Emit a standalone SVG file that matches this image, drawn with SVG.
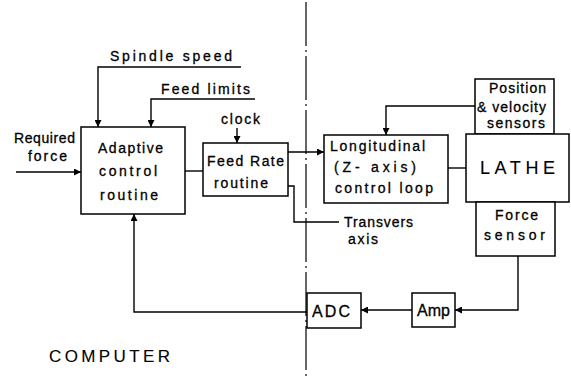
<svg xmlns="http://www.w3.org/2000/svg" width="571" height="379" viewBox="0 0 571 379">
<defs>
<marker id="ah" viewBox="0 0 10 10" refX="10" refY="5" markerWidth="9" markerHeight="7" markerUnits="userSpaceOnUse" orient="auto">
<path d="M0,0 L10,5 L0,10 z" fill="#000"/>
</marker>
<style>
.b{fill:#fff;stroke:#000;stroke-width:1.5}
.c{fill:none;stroke:#000;stroke-width:1.4}
.a{marker-end:url(#ah)}
text{font-family:"Liberation Sans",Arial,sans-serif;font-size:14px;fill:#000;stroke:#000;stroke-width:0.3}
.big{font-size:17px;stroke-width:0.1}
.mid{font-size:16px}
</style>
</defs>
<rect width="571" height="379" fill="#fff"/>
<g id="connectors">
<line x1="306" y1="2" x2="306" y2="379" stroke="#000" stroke-width="1.2" stroke-dasharray="44 4 2 4"/>
<polyline class="c a" points="241,67 98,67 98,127"/>
<polyline class="c a" points="255,99 151,99 151,127"/>
<polyline class="c a" points="16,172 81,172"/>
<polyline class="c" points="185,171 203,171"/>
<polyline class="c a" points="237,128 237,143"/>
<polyline class="c a" points="288,152 324,152"/>
<polyline class="c" points="288,186 294,186 294,222 339,222"/>
<polyline class="c" points="448,168 466,168"/>
<polyline class="c a" points="475,106 386,106 386,135"/>
<polyline class="c a" points="518,256 518,310 455,310"/>
<polyline class="c a" points="412,310 361,310"/>
<polyline class="c a" points="307,312 134,312 134,214"/>
</g>
<g id="labels">
<text x="110" y="61" textLength="122" lengthAdjust="spacing">Spindle speed</text>
<text x="161" y="94" textLength="89" lengthAdjust="spacing">Feed limits</text>
<text x="221" y="124" textLength="39" lengthAdjust="spacing">clock</text>
<text x="14" y="143" textLength="61" lengthAdjust="spacing">Required</text>
<text x="28" y="161" textLength="39" lengthAdjust="spacing">force</text>
<text x="344" y="227" textLength="69" lengthAdjust="spacing">Transvers</text>
<text x="348" y="244" textLength="30" lengthAdjust="spacing">axis</text>
<text class="big" x="49" y="362" textLength="121" lengthAdjust="spacing">COMPUTER</text>
</g>
<g id="adaptive">
<rect class="b" x="81" y="127" width="104" height="87"/>
<text x="98" y="153" textLength="65" lengthAdjust="spacing">Adaptive</text>
<text x="99" y="176" textLength="58" lengthAdjust="spacing">control</text>
<text x="100" y="200" textLength="58" lengthAdjust="spacing">routine</text>
</g>
<g id="feedrate">
<rect class="b" x="203" y="143" width="85" height="53"/>
<text x="207" y="166" textLength="77" lengthAdjust="spacing">Feed Rate</text>
<text x="214" y="188" textLength="54" lengthAdjust="spacing">routine</text>
</g>
<g id="longitudinal">
<rect class="b" x="324" y="135" width="124" height="68"/>
<text x="330" y="151" textLength="95" lengthAdjust="spacing">Longitudinal</text>
<text x="334" y="172" textLength="82" lengthAdjust="spacing">(Z- axis)</text>
<text x="335" y="193" textLength="98" lengthAdjust="spacing">control loop</text>
</g>
<g id="position">
<rect class="b" x="475" y="79" width="79" height="55"/>
<text x="489" y="93" textLength="57" lengthAdjust="spacing">Position</text>
<text x="477" y="112" textLength="69" lengthAdjust="spacing">&amp; velocity</text>
<text x="487" y="128" textLength="58" lengthAdjust="spacing">sensors</text>
</g>
<g id="lathe">
<rect class="b" x="466" y="134" width="103" height="68"/>
<text class="big" x="480" y="174" textLength="75" lengthAdjust="spacing" style="font-size:18px">LATHE</text>
</g>
<g id="force">
<rect class="b" x="476" y="202" width="79" height="54"/>
<text x="495" y="220" textLength="43" lengthAdjust="spacing">Force</text>
<text x="484" y="240" textLength="61" lengthAdjust="spacing">sensor</text>
</g>
<g id="amp">
<rect class="b" x="412" y="293" width="43" height="34"/>
<text class="mid" x="417" y="316" textLength="33" lengthAdjust="spacing">Amp</text>
</g>
<g id="adc">
<rect class="b" x="307" y="293" width="54" height="35"/>
<text class="mid" x="312" y="317" textLength="38" lengthAdjust="spacing">ADC</text>
</g>
</svg>
